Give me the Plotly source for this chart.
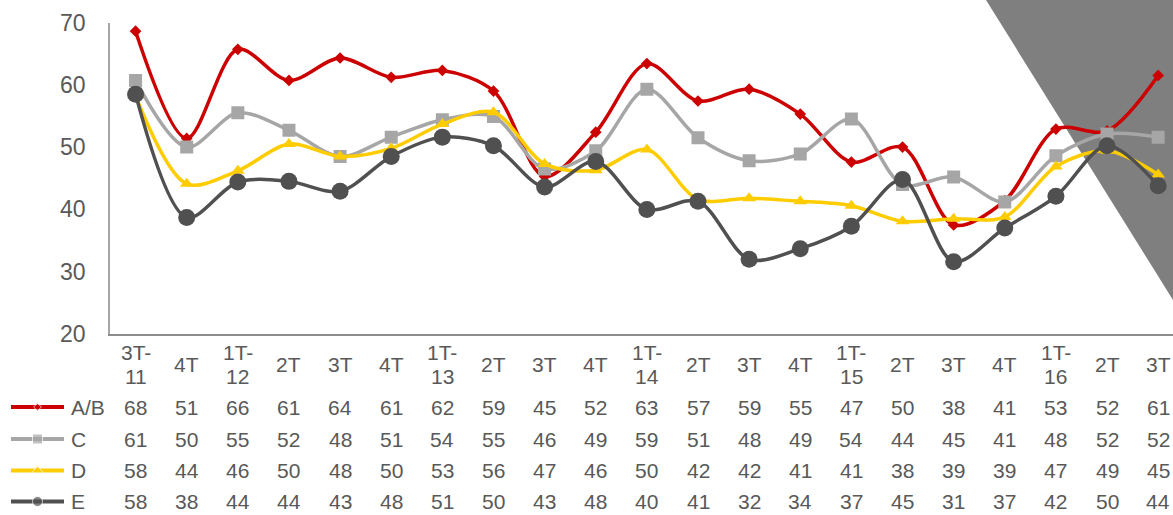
import plotly.graph_objects as go

W, H = 1173, 515

periods = ["3T-11", "4T", "1T-12", "2T", "3T", "4T", "1T-13", "2T", "3T", "4T",
           "1T-14", "2T", "3T", "4T", "1T-15", "2T", "3T", "4T", "1T-16", "2T", "3T"]

# plotted values
ab = [68.6, 51.4, 65.7, 60.7, 64.3, 61.2, 62.3, 59.0, 45.3, 52.4, 63.4,
      57.4, 59.3, 55.3, 47.6, 50.0, 37.5, 41.4, 52.9, 52.6, 61.5]
c = [60.7, 50.0, 55.5, 52.7, 48.5, 51.6, 54.4, 54.9, 46.5, 49.4, 59.3,
     51.5, 47.8, 48.9, 54.5, 44.0, 45.2, 41.2, 48.6, 52.1, 51.6]
d = [58.2, 44.1, 46.2, 50.5, 48.5, 49.8, 53.7, 55.6, 47.3, 46.3, 49.6,
     41.6, 41.8, 41.3, 40.6, 38.1, 38.5, 38.8, 46.9, 49.4, 45.6]
e = [58.5, 38.7, 44.4, 44.5, 42.9, 48.5, 51.6, 50.2, 43.6, 47.7, 40.0,
     41.3, 32.0, 33.7, 37.3, 44.8, 31.6, 37.0, 42.1, 50.2, 43.8]

# data table values (as printed)
ab_tab = [68, 51, 66, 61, 64, 61, 62, 59, 45, 52, 63, 57, 59, 55, 47, 50, 38, 41, 53, 52, 61]
c_tab = [61, 50, 55, 52, 48, 51, 54, 55, 46, 49, 59, 51, 48, 49, 54, 44, 45, 41, 48, 52, 52]
d_tab = [58, 44, 46, 50, 48, 50, 53, 56, 47, 46, 50, 42, 42, 41, 41, 38, 39, 39, 47, 49, 45]
e_tab = [58, 38, 44, 44, 43, 48, 51, 50, 43, 48, 40, 41, 32, 34, 37, 45, 31, 37, 42, 50, 44]

series = [
    ("A/B", ab, ab_tab, "#CC0000", "diamond", 9, 6),
    ("C", c, c_tab, "#A6A6A6", "square", 13, 10),
    ("D", d, d_tab, "#FFCC00", "triangle-up", 12, 10),
    ("E", e, e_tab, "#505050", "circle", 17, 10),
]

FONT = "Arial, Liberation Sans, sans-serif"
TXT = "#595959"


def py(pix):
    # pixel row -> paper fraction
    return 1 - pix / H


x = list(range(len(periods)))
fig = go.Figure()

for name, vals, _, col, sym, msize, _ in series:
    fig.add_trace(go.Scatter(
        x=x, y=vals, name=name, mode="lines+markers",
        line=dict(color=col, width=3.5, shape="spline", smoothing=0.9),
        marker=dict(symbol=sym, size=msize, color=col),
        showlegend=False, hoverinfo="skip",
    ))

annotations = []
# category labels
for i, lab in enumerate(periods):
    if "-" in lab:
        top, bot = lab.split("-")
        annotations.append(dict(x=i, y=py(352), text=top + "-"))
        annotations.append(dict(x=i, y=py(376), text=bot))
    else:
        annotations.append(dict(x=i, y=py(364), text=lab))

row_y = [407, 439, 470.5, 501.5]
for (name, _, tab, col, sym, _, ksize), ry in zip(series, row_y):
    for i, v in enumerate(tab):
        annotations.append(dict(x=i, y=py(ry), text=str(v)))
    annotations.append(dict(x=69 / W, xref="paper", xanchor="left", y=py(ry), text=name))
    # legend key: line + marker on a pixel axis
    fig.add_trace(go.Scatter(
        x=[11, 37.5, 64], y=[ry, ry, ry], mode="lines+markers",
        line=dict(color=col, width=4),
        marker=dict(symbol=sym, size=[0, ksize, 0], color=col),
        xaxis="x2", yaxis="y2", showlegend=False, hoverinfo="skip",
    ))

for a in annotations:
    a.setdefault("xref", "x")
    a.setdefault("xanchor", "center")
    a.update(yref="paper", yanchor="middle", showarrow=False,
             font=dict(family=FONT, size=21, color=TXT))

fig.update_layout(
    template="none",
    width=W, height=H,
    margin=dict(l=0, r=0, t=0, b=0, pad=0, autoexpand=False),
    paper_bgcolor="white",
    plot_bgcolor="rgba(0,0,0,0)",
    font=dict(family=FONT, color=TXT),
    annotations=annotations,
    xaxis=dict(domain=[110 / W, 1], range=[-0.5, 20.29], showticklabels=False,
               showgrid=False, zeroline=False, showline=True, automargin=False,
               linecolor="#8C8C8C", linewidth=1.5, fixedrange=True, ticks=""),
    yaxis=dict(domain=[py(334), py(22.5)], range=[20, 70], dtick=10,
               showgrid=False, zeroline=False, showline=True, automargin=False,
               linecolor="#A6A6A6", linewidth=1.5, ticks="",
               tickfont=dict(family=FONT, size=23, color=TXT),
               ticklabelstandoff=18, fixedrange=True),
    xaxis2=dict(domain=[0, 1], range=[0, W], visible=False, anchor="y2",
                automargin=False, fixedrange=True),
    yaxis2=dict(domain=[0, 1], range=[H, 0], visible=False, anchor="x2",
                automargin=False, fixedrange=True),
    shapes=[dict(type="path", xref="paper", yref="paper", layer="below",
                 path=f"M {986 / W},1 L 1,1 L 1,{py(300)} Z",
                 fillcolor="#7F7F7F", line=dict(width=0))],
)

fig.write_html("out.html", config={"displayModeBar": False},
               post_script="document.body.style.margin='0';")
